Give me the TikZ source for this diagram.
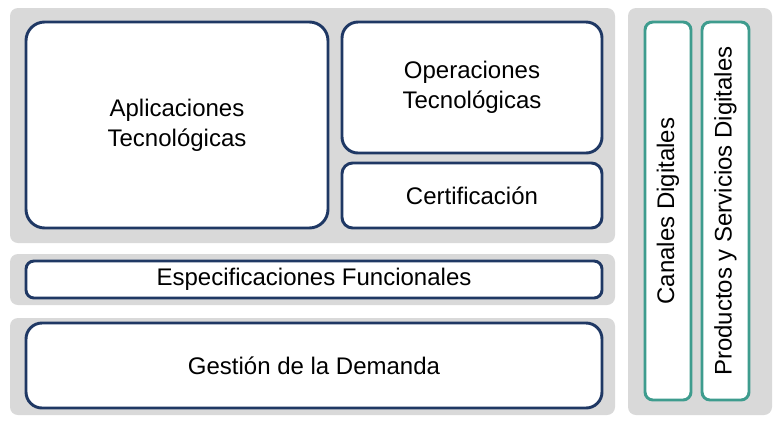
\documentclass[tikz,border=0pt]{standalone}
\usepackage{fontspec}
\setmainfont{Liberation Sans}
\definecolor{panel}{HTML}{D9D9D9}
\definecolor{navy}{HTML}{1F3864}
\definecolor{teal2}{HTML}{3E9C8E}
\begin{document}
\begin{tikzpicture}[x=0.75pt,y=-0.75pt,
  panelbox/.style={fill=panel,draw=none,rounded corners=6pt},
  bluebox/.style={fill=white,draw=navy,line width=2.2pt,rounded corners=#1},
  bluebox/.default=12pt,
  tealbox/.style={fill=white,draw=teal2,line width=2.2pt,rounded corners=6pt},
  lbl/.style={font=\fontsize{18}{22.5}\selectfont,align=center,text=black}]
\useasboundingbox (0,0) rectangle (778,422);
\fill[panelbox] (10,8) rectangle (615,243);
\fill[panelbox] (10,254) rectangle (615,305);
\fill[panelbox] (10,318) rectangle (615,415);
\fill[panelbox] (628,8) rectangle (772,415);
\draw[bluebox=14pt] (26,22) rectangle (328,228) node[midway,lbl] (apl) {Aplicaciones\\Tecnológicas};
\draw[bluebox] (342,22) rectangle (602,153) node[midway,lbl] (ope) {Operaciones\\Tecnológicas};
\draw[bluebox=8pt] (342,163) rectangle (602,228) node[midway,lbl] (cer) {Certificación};
\draw[bluebox=6pt] (26,261) rectangle (602,298) node[midway,lbl] (esp) {Especificaciones Funcionales};
\draw[bluebox] (26,323) rectangle (602,408) node[midway,lbl] (ges) {Gestión de la Demanda};
\draw[tealbox] (645,22) rectangle (691,400) node[midway,lbl,rotate=90] (can) {Canales Digitales};
\draw[tealbox] (702,22) rectangle (749,400) node[midway,lbl,rotate=90] (pro) {Productos y Servicios Digitales};
\end{tikzpicture}
\end{document}
